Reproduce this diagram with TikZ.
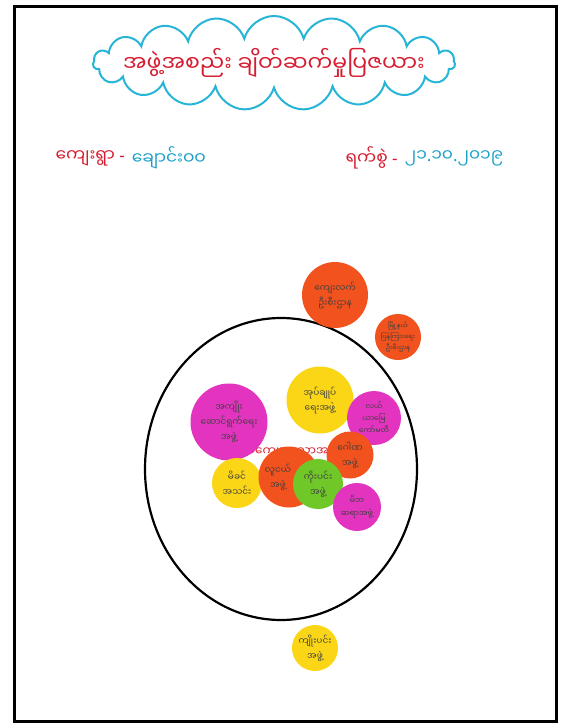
\documentclass[tikz,border=0pt]{standalone}
\usepackage{fontspec}
\newfontfamily\mmfont[Script=Myanmar]{Noto Sans Myanmar UI}
\newfontfamily\latfont{Noto Sans}
\usetikzlibrary{shapes.symbols}

\definecolor{inkred}{RGB}{214,28,48}
\definecolor{inkblue}{RGB}{28,160,200}
\definecolor{cloudblue}{RGB}{40,180,215}
\definecolor{orgred}{RGB}{242,82,30}
\definecolor{orgyellow}{RGB}{250,214,22}
\definecolor{orgpink}{RGB}{226,52,190}
\definecolor{orggreen}{RGB}{112,200,40}

\begin{document}
\begin{tikzpicture}[x=1pt, y=-1pt,
    org/.style={circle, inner sep=0pt, align=center, text=black!75,
        font=\mmfont\fontsize{9}{15}\selectfont},
    head/.style={font=\mmfont\fontsize{17}{20}\selectfont}]
    \useasboundingbox (0,0) rectangle (568,726);
    \draw[line width=3pt] (14,6) rectangle (556,721);

    % title and header
    \node[cloud, cloud puffs=19, aspect=4.4, draw=cloudblue, line width=2pt,
        minimum width=362pt, minimum height=94pt] (cloudbox) at (274,63) {};
    \node[text=inkred, font=\mmfont\fontsize{22}{26}\selectfont] (title) at (cloudbox.center)
        {အဖွဲ့အစည်း ချိတ်ဆက်မှုပြဇယား};
    \node[head, text=inkred, anchor=west] (village) at (52,158) {ကျေးရွာ {\latfont\bfseries -}};
    \node[head, text=inkblue, anchor=west] (vname) at (village.east) {ချောင်းဝဝ};
    \node[head, text=inkred, anchor=west] (date) at (342,158) {ရက်စွဲ {\latfont\bfseries -}};
    \node[head, text=inkblue, anchor=west] (dval) at (date.east)
        {၂၁{\latfont.}၁၀{\latfont.}၂၀၁၉};

    % village ring
    \draw[line width=2.2pt] (281,469) ellipse [x radius=136, y radius=151];
    \node[text=inkred, font=\mmfont\fontsize{12}{14}\selectfont] (band) at (292,451)
        {မကျေးရွာသာအဖွဲ့};

    % organisations
    \node[org, fill=orgred, minimum size=66pt] (rural) at (335,295)
        {ကျေးလက်\\ဦးစီးဌာန};
    \node[org, fill=orgred, minimum size=46pt, font=\mmfont\fontsize{6.5}{11}\selectfont]
        (info) at (398,337) {မြို့နယ်\\ပြန်ကြားရေး\\ဦးစီးဌာန};
    \node[org, fill=orgpink, minimum size=77pt] (benefit) at (229,422)
        {အကျိုး\\ဆောင်ရွက်ရေး\\အဖွဲ့};
    \node[org, fill=orgyellow, minimum size=67pt] (admin) at (320,400)
        {အုပ်ချုပ်\\ရေးအဖွဲ့};
    \node[org, fill=orgpink, minimum size=54pt, font=\mmfont\fontsize{7.5}{12}\selectfont]
        (farm) at (374,418) {လယ်\\ယာမြေ\\ကော်မတီ};
    \node[org, fill=orgred, minimum size=47pt] (gana) at (350,455)
        {ဂေါဏ\\အဖွဲ့};
    \node[org, fill=orgyellow, minimum size=50pt] (mother) at (237,483)
        {မိခင်\\အသင်း};
    \node[org, fill=orgred, minimum size=61pt] (youth) at (289,477) {};
    \node[org, fill=orggreen, minimum size=50pt] (kopin) at (318,484)
        {ကိုးပင်း\\အဖွဲ့};
    \node[org] (youthtext) at ([xshift=-11pt]youth.center) {လူငယ်\\အဖွဲ့};
    \node[org, fill=orgpink, minimum size=48pt, font=\mmfont\fontsize{8}{13}\selectfont]
        (pta) at (357,507) {မိဘ\\ဆရာအဖွဲ့};
    \node[org, fill=orgyellow, minimum size=46pt] (kyopin) at (315,648)
        {ကျိုးပင်း\\အဖွဲ့};
\end{tikzpicture}
\end{document}
